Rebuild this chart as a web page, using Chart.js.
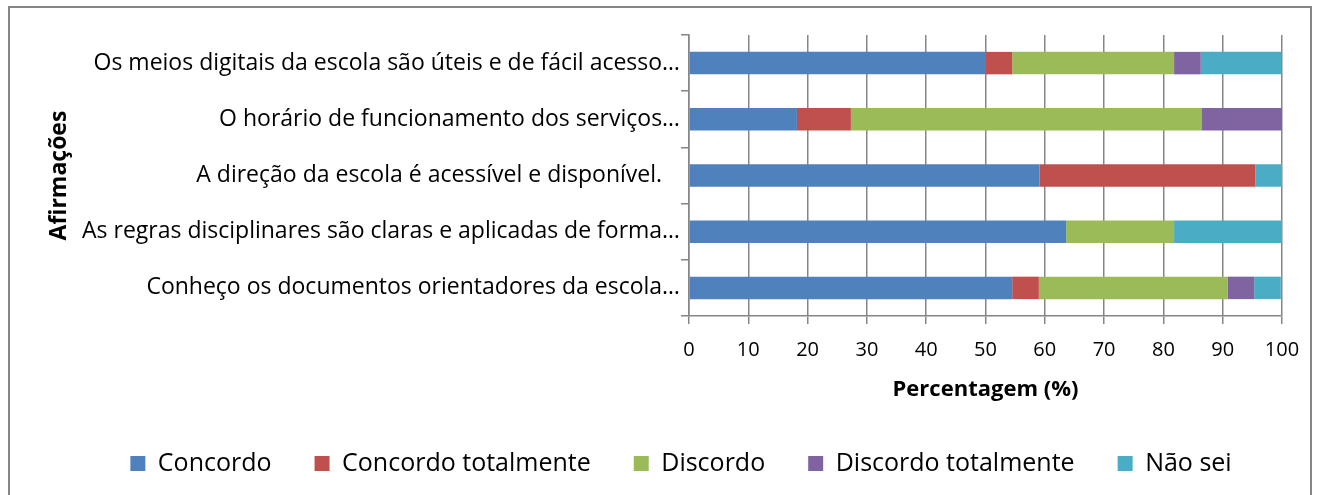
<!DOCTYPE html>
<html>
<head>
<meta charset="utf-8">
<script src="https://cdn.jsdelivr.net/npm/chart.js@4.4.1/dist/chart.umd.min.js"></script>
<style>
  html, body { margin: 0; padding: 0; background: #fff; }
  #frame { position: absolute; left: 8px; top: 6px; width: 1304px; height: 560px; border: 2px solid #868686; box-sizing: border-box; }
  #wrap { position: absolute; left: 0; top: 0; width: 1318px; height: 495px; }
</style>
</head>
<body>
<div id="frame"></div>
<div id="wrap"><canvas id="c" width="1318" height="495"></canvas></div>
<script>
// afirmações, de cima para baixo
const afirmacoes = [
  'Os meios digitais da escola são úteis e de fácil acesso…',
  'O horário de funcionamento dos serviços…',
  'A direção da escola é acessível e disponível.   ',
  'As regras disciplinares são claras e aplicadas de forma…',
  'Conheço os documentos orientadores da escola…',
];
const concordo = [50, 18.2, 59.1, 63.6, 54.5];
const concordoTotal = [4.5, 9.1, 36.4, 0, 4.5];
const discordo = [27.3, 59.1, 0, 18.2, 31.8];
const discordoTotal = [4.5, 13.6, 0, 0, 4.5];
const naoSei = [13.6, 0, 4.5, 18.2, 4.5];
const xTicks = [0, 10, 20, 30, 40, 50, 60, 70, 80, 90, 100];

const C = { blue: '#4f81bd', red: '#c0504d', green: '#9bbb59', violet: '#8064a2', cyan: '#4bacc6', grid: '#868686' };
const FONT = "'Open Sans', 'Liberation Sans', sans-serif";

const ds = (label, data, color) => ({
  label, data, backgroundColor: color, borderWidth: 0,
  categoryPercentage: 1, barPercentage: 0.4,
});

// a legenda do Excel fica um pouco à direita do centro
const legendShift = {
  id: 'legendShift',
  afterLayout(chart) { chart.legend.left += 40; chart.legend.right += 40; },
};

new Chart(document.getElementById('c').getContext('2d'), {
  type: 'bar',
  plugins: [legendShift],
  data: {
    labels: afirmacoes,
    datasets: [
      ds('Concordo', concordo, C.blue),
      ds('Concordo totalmente', concordoTotal, C.red),
      ds('Discordo', discordo, C.green),
      ds('Discordo totalmente', discordoTotal, C.violet),
      ds('Não sei', naoSei, C.cyan),
    ],
  },
  options: {
    indexAxis: 'y', responsive: false, animation: false,
    layout: { padding: { top: 35, right: 36, bottom: 9, left: 0 } },
    plugins: {
      tooltip: { enabled: false },
      legend: {
        position: 'bottom',
        labels: { boxWidth: 15, boxHeight: 15, padding: 43, color: '#000', font: { family: FONT, size: 25 } },
      },
    },
    scales: {
      x: {
        stacked: true, min: 0, max: 100,
        afterBuildTicks: (s) => { s.ticks = xTicks.map((v) => ({ value: v })); },
        afterFit: (s) => { s.height = 92; s.paddingLeft = 0; s.paddingRight = 0; },
        grid: { color: C.grid, lineWidth: 1.5, tickLength: 8 },
        border: { color: C.grid, width: 1.5 },
        ticks: { color: '#000', padding: 14, maxRotation: 0, font: { family: FONT, size: 20 } },
        title: { display: true, text: 'Percentagem (%)', color: '#000', padding: { top: 0, bottom: 5 }, font: { family: FONT, size: 22, weight: 'bold' } },
      },
      y: {
        stacked: true,
        afterFit: (s) => { s.width = 689; },
        grid: { drawOnChartArea: false, color: C.grid, lineWidth: 1.5, tickLength: 8 },
        border: { color: C.grid, width: 1.5 },
        ticks: { color: '#000', padding: 1, font: { family: FONT, size: 23 } },
        title: { display: true, text: 'Afirmações', color: '#000', padding: { top: 46, bottom: 0 }, font: { family: FONT, size: 23, weight: 'bold' } },
      },
    },
  },
});
</script>
</body>
</html>
